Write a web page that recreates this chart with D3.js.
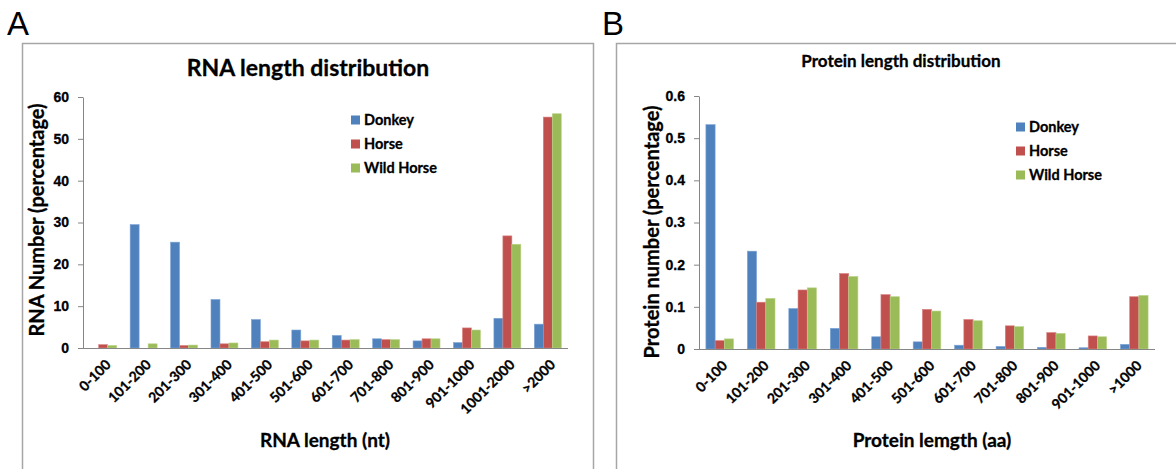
<!DOCTYPE html>
<html>
<head>
<meta charset="utf-8">
<script src="https://cdn.jsdelivr.net/npm/d3@7"></script>
<style>
  body { margin: 0; background: #fff; }
  svg { display: block; font-family: Lato, "Open Sans", sans-serif; }
  .axis path, .axis line { stroke: #868686; }
  .axis text { font-size: 14px; font-weight: bold; fill: #000; stroke: #000; stroke-width: 0.3px; }
  .lbl { stroke: #000; stroke-width: 0.3px; }
</style>
</head>
<body>
<svg width="1176" height="469"></svg>
<script>
// ---- data ----
var seriesNames = ["Donkey", "Horse", "Wild Horse"];
var seriesColors = ["#4F81BD", "#C0504D", "#9BBB59"];
var seriesEdges = ["#7FA5D6", "#D98280", "#B9D387"];

var rnaCategories = ["0-100", "101-200", "201-300", "301-400", "401-500", "501-600",
                     "601-700", "701-800", "801-900", "901-1000", "1001-2000", ">2000"];
var rnaDonkey    = [0, 29.5, 25.3, 11.6, 6.8, 4.3, 3.0, 2.2, 1.7, 1.3, 7.1, 5.7];
var rnaHorse     = [0.8, 0, 0.6, 1.0, 1.5, 1.7, 1.9, 2.0, 2.2, 4.8, 26.8, 55.2];
var rnaWildHorse = [0.6, 1.0, 0.7, 1.2, 1.9, 1.9, 2.0, 2.0, 2.2, 4.3, 24.8, 56.0];
var rnaTicks = [0, 10, 20, 30, 40, 50, 60];

var proteinCategories = ["0-100", "101-200", "201-300", "301-400", "401-500", "501-600",
                         "601-700", "701-800", "801-900", "901-1000", ">1000"];
var proteinDonkey    = [0.532, 0.232, 0.096, 0.049, 0.029, 0.017, 0.009, 0.006, 0.004, 0.003, 0.011];
var proteinHorse     = [0.020, 0.111, 0.140, 0.179, 0.129, 0.094, 0.070, 0.055, 0.039, 0.031, 0.124];
var proteinWildHorse = [0.024, 0.120, 0.145, 0.172, 0.124, 0.090, 0.067, 0.053, 0.037, 0.029, 0.127];
var proteinTicks = [0, 0.1, 0.2, 0.3, 0.4, 0.5, 0.6];

var svg = d3.select("svg");

// panel frames and letters
svg.append("rect").attr("x", 22.5).attr("y", 43.5).attr("width", 571).attr("height", 440)
   .attr("fill", "none").attr("stroke", "#A6A6A6").attr("stroke-width", 1.5);
svg.append("rect").attr("x", 616.5).attr("y", 43.5).attr("width", 600).attr("height", 440)
   .attr("fill", "none").attr("stroke", "#A6A6A6").attr("stroke-width", 1.5);
svg.append("text").attr("x", 7).attr("y", 35).attr("font-size", 33).text("A")
   .style("font-family", "'Liberation Sans', Arial, sans-serif");
svg.append("text").attr("x", 602).attr("y", 35).attr("font-size", 33).text("B")
   .style("font-family", "'Liberation Sans', Arial, sans-serif");

function drawChart(opt) {
  var g = svg.append("g");
  var rows = opt.categories.map(function(c, i) {
    return { cat: c, vals: opt.series.map(function(s) { return s[i]; }) };
  });

  var x0 = d3.scaleBand().domain(opt.categories).range([opt.left, opt.right])
             .paddingInner(1 / 3).paddingOuter(1 / 6);
  var x1 = d3.scaleBand().domain(d3.range(seriesNames.length)).range([0, x0.bandwidth()]);
  var y = d3.scaleLinear().domain([0, d3.max(opt.ticks)]).range([opt.bottom, opt.top]);

  // bars
  g.selectAll(".grp").data(rows).enter().append("g")
    .attr("transform", function(d) { return "translate(" + x0(d.cat) + ",0)"; })
    .selectAll("rect").data(function(d) { return d.vals; }).enter().append("rect")
      .attr("x", function(d, i) { return x1(i); })
      .attr("width", x1.bandwidth())
      .attr("y", function(d) { return y(d); })
      .attr("height", function(d) { return opt.bottom - y(d); })
      .attr("fill", function(d, i) { return seriesColors[i]; })
      .attr("stroke", function(d, i) { return seriesEdges[i]; })
      .attr("stroke-width", function(d) { return d > 0 ? 0.6 : 0; });

  // y axis
  g.append("g").attr("class", "axis")
    .attr("transform", "translate(" + opt.left + ",0)")
    .call(d3.axisLeft(y).tickValues(opt.ticks).tickSize(5).tickSizeOuter(0).tickPadding(9)
            .tickFormat(function(d) { return String(d); }));

  // x axis line
  g.append("line").attr("x1", opt.left).attr("x2", opt.right)
    .attr("y1", opt.bottom + 0.5).attr("y2", opt.bottom + 0.5)
    .attr("stroke", "#868686");

  // category labels
  g.selectAll(".xl").data(opt.categories).enter().append("text")
    .attr("class", "lbl")
    .attr("transform", function(d) {
      return "translate(" + (x0(d) + x0.bandwidth() / 2 + 5) + "," + (opt.bottom + 14) + ") rotate(-45)";
    })
    .attr("text-anchor", "end").attr("dy", "0.35em")
    .attr("font-size", 14).attr("font-weight", "bold")
    .text(function(d) { return d; });

  // titles
  g.append("text").attr("class", "lbl").attr("x", opt.titleX).attr("y", opt.titleY).attr("text-anchor", "middle")
    .attr("font-size", opt.titleSize).attr("font-weight", "bold").text(opt.title);
  g.append("text").attr("class", "lbl").attr("x", opt.xLabelX).attr("y", 447).attr("text-anchor", "middle")
    .attr("font-size", 19).attr("font-weight", "bold").text(opt.xLabel);
  g.append("text").attr("class", "lbl")
    .attr("transform", "translate(" + opt.yLabelX + "," + opt.yLabelY + ") rotate(-90)")
    .attr("text-anchor", "middle").attr("font-size", 20).attr("font-weight", "bold")
    .text(opt.yLabel);

  // legend
  var lg = g.selectAll(".lg").data(seriesNames).enter().append("g")
    .attr("transform", function(d, i) { return "translate(" + opt.legendX + "," + (opt.legendY + i * 24) + ")"; });
  lg.append("rect").attr("x", 0).attr("y", -4.5).attr("width", 9).attr("height", 9)
    .attr("fill", function(d, i) { return seriesColors[i]; });
  lg.append("text").attr("class", "lbl").attr("x", 13).attr("dy", "0.35em").attr("font-size", 14.5)
    .attr("font-weight", "bold").text(function(d) { return d; });
}

drawChart({
  categories: rnaCategories,
  series: [rnaDonkey, rnaHorse, rnaWildHorse],
  ticks: rnaTicks,
  left: 83, right: 568, top: 97, bottom: 348,
  title: "RNA length distribution", titleX: 308, titleY: 76, titleSize: 23,
  xLabel: "RNA length (nt)", xLabelX: 325,
  yLabel: "RNA Number (percentage)", yLabelX: 44, yLabelY: 220,
  legendX: 351, legendY: 120
});

drawChart({
  categories: proteinCategories,
  series: [proteinDonkey, proteinHorse, proteinWildHorse],
  ticks: proteinTicks,
  left: 699, right: 1155, top: 96, bottom: 349,
  title: "Protein length distribution", titleX: 901, titleY: 67, titleSize: 17,
  xLabel: "Protein lemgth (aa)", xLabelX: 932,
  yLabel: "Protein number (percentage)", yLabelX: 659, yLabelY: 232,
  legendX: 1016, legendY: 127
});
</script>
</body>
</html>
